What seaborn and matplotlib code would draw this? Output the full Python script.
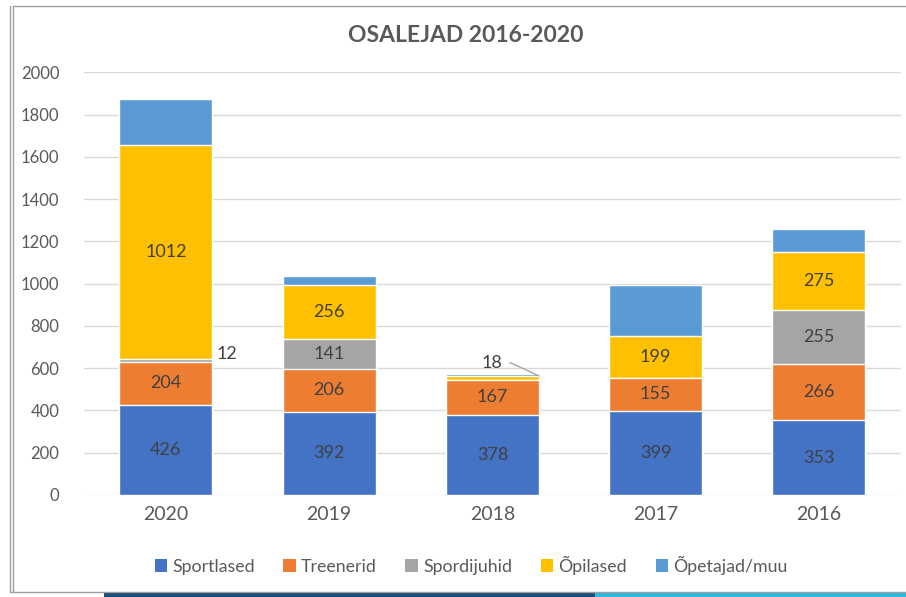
import numpy as np
import pandas as pd
import seaborn as sns
import matplotlib.pyplot as plt
from matplotlib.patches import Patch, Rectangle

years = ['2020', '2019', '2018', '2017', '2016']
sportlased = [426, 392, 378, 399, 353]
treenerid = [204, 206, 167, 155, 266]
spordijuhid = [12, 141, 0, 0, 255]
opilased = [1012, 256, 18, 199, 275]
opetajad = [218, 42, 10, 240, 108]

series_names = ['Sportlased', 'Treenerid', 'Spordijuhid', 'Õpilased', 'Õpetajad/muu']
colors = ['#4472C4', '#ED7D31', '#A5A5A5', '#FFC000', '#5B9BD5']
series = [sportlased, treenerid, spordijuhid, opilased, opetajad]

sns.set_style('white')
plt.rcParams['font.family'] = ['Lato', 'DejaVu Sans']

df = pd.DataFrame({'aasta': years})
cum = np.zeros(len(years))
bottoms = []
for name, vals in zip(series_names, series):
    bottoms.append(cum.copy())
    cum = cum + np.array(vals)
    df[name] = cum

fig = plt.figure(figsize=(9.06, 5.97), dpi=100)
ax = fig.add_axes([0.093, 0.171, 0.901, 0.708])

# stacked: draw cumulative totals from the top series down
for name, col in reversed(list(zip(series_names, colors))):
    sns.barplot(data=df, x='aasta', y=name, order=years, color=col, width=0.57,
                saturation=1, ax=ax, zorder=3)

# data labels (big enough segments, inside)
for i, name in enumerate(series_names[:4]):
    vals = series[i]
    for j, v in enumerate(vals):
        if v < 50:
            continue
        mid = bottoms[i][j] + v / 2
        ax.text(j, mid, str(v), ha='center', va='center', fontsize=13, color='#404040', zorder=5)

# small segments with outside labels
ax.text(0.31, 667, str(spordijuhid[0]), ha='left', va='center', fontsize=13, color='#404040')
ax.annotate(str(opilased[2]), xy=(2.285, bottoms[3][2] + opilased[2]), xytext=(2.06, 624),
            ha='right', va='center', fontsize=13, color='#404040',
            arrowprops=dict(arrowstyle='-', color='#A5A5A5', lw=1,
                            connectionstyle='angle,angleA=0,angleB=-25,rad=0',
                            shrinkA=3, shrinkB=0))

ax.set_ylim(0, 2000)
ax.set_xlim(-0.5, 4.5)
ax.set_yticks(range(0, 2001, 200))
ax.yaxis.grid(True, color='#D9D9D9', lw=1, zorder=0)
ax.set_axisbelow(True)
for s in ax.spines.values():
    s.set_visible(False)
ax.tick_params(axis='y', length=0, labelsize=12, labelcolor='#595959', pad=18)
ax.tick_params(axis='x', length=0, labelsize=14, labelcolor='#595959', pad=8)
ax.set_xlabel('')
ax.set_ylabel('')

fig.text(0.514, 0.94, 'OSALEJAD 2016-2020', ha='center', va='center',
         fontsize=16.5, fontweight='bold', color='#595959')

handles = [Patch(facecolor=c, edgecolor='none') for c in colors]
fig.legend(handles, series_names, loc='center', bbox_to_anchor=(0.52, 0.053), ncol=5,
           frameon=False, fontsize=12.8, handlelength=0.7, handleheight=0.7,
           handletextpad=0.3, columnspacing=1.6, labelcolor='#595959')

# slide frame bits
fig.add_artist(plt.Line2D([0.011, 0.011], [0.008, 0.99], color='#A0A0A0', lw=1))
fig.add_artist(plt.Line2D([0.0145, 0.0145], [0.008, 0.99], color='#A0A0A0', lw=1))
fig.add_artist(plt.Line2D([0.0145, 1.0], [0.99, 0.99], color='#A0A0A0', lw=1))
fig.add_artist(plt.Line2D([0.011, 1.0], [0.0085, 0.0085], color='#A0A0A0', lw=1))
fig.add_artist(Rectangle((0.115, 0.0), 0.545, 0.007, transform=fig.transFigure,
                         color='#1F4E79', lw=0))
fig.add_artist(Rectangle((0.657, 0.0), 0.343, 0.007, transform=fig.transFigure,
                         color='#2BBBD8', lw=0))

fig.savefig('out.png', dpi=100)
